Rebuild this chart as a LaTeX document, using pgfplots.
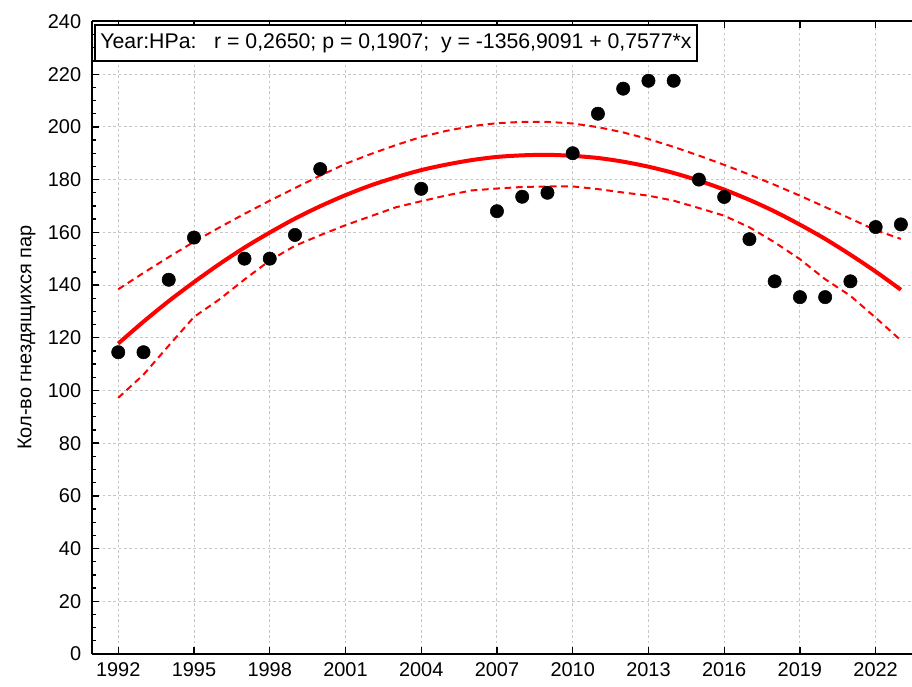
\documentclass[border=0pt]{standalone}
\usepackage{pgfplots}
\pgfplotsset{compat=1.18}
\usepackage{fontspec}
\setmainfont{Liberation Sans}

\pgfplotstableread{
x y
1992 114.5
1993 114.5
1994 142
1995 158
1997 150
1998 150
1999 159
2000 184
2004 176.5
2007 168
2008 173.5
2009 175
2010 190
2011 205
2012 214.5
2013 217.5
2014 217.5
2015 180
2016 173.4
2017 157.4
2018 141.4
2019 135.4
2020 135.4
2021 141.4
2022 162
2023 163
}\pts

\pgfplotstableread{
x fit up lo
1992 117.8 138.4 97.2
1993 126.1 144.6 106.0
1994 133.9 150.6 117.0
1995 141.1 156.4 127.9
1996 147.9 161.8 134.5
1997 154.2 167.0 142.1
1998 159.9 172.0 149.3
1999 165.2 176.8 154.9
2000 169.9 181.5 158.9
2001 174.1 186.0 162.7
2002 177.8 189.7 166.1
2003 180.9 193.1 169.5
2004 183.6 196.2 171.8
2005 185.7 198.5 174.0
2006 187.4 200.3 175.9
2007 188.6 201.4 176.6
2008 189.2 201.9 177.2
2009 189.4 201.9 177.4
2010 189.0 201.3 177.4
2011 188.2 199.9 176.4
2012 186.8 197.9 175.1
2013 184.9 195.4 173.9
2014 182.5 192.4 172.0
2015 179.6 189.1 169.2
2016 176.2 185.6 166.3
2017 172.3 181.9 161.9
2018 167.9 178.0 156.2
2019 162.9 173.9 149.8
2020 157.5 169.6 142.2
2021 151.5 165.2 135.9
2022 145.1 160.8 127.6
2023 138.2 157.5 119.0
}\band

\begin{document}
\fontsize{15}{17}\selectfont
\begin{tikzpicture}
\begin{axis}[
  scale only axis, width=615bp, height=474.4bp,
  xmin=1990.96, xmax=2023.44, ymin=0, ymax=240,
  axis x line=box, axis y line=left,
  y axis line style={-},
  axis line style={line width=1.5bp},
  xtick={1992,1995,...,2022}, ytick={0,20,...,240},
  minor x tick num=2, minor y tick num=3,
  tick align=inside,
  major tick length=5bp, minor tick length=3bp,
  tick style={black, line width=1bp},
  grid=major,
  major grid style={black!22, dash pattern=on 2bp off 2bp, line width=0.7bp},
  /pgf/number format/assume math mode=true,
  /pgf/number format/1000 sep={},
  ticklabel style={font=\fontsize{15}{17}\selectfont},
  xticklabel style={yshift=-1bp},
  yticklabel style={xshift=-3bp},
  ylabel={Кол-во гнездящихся пар},
  ylabel style={font=\fontsize{15}{17}\selectfont, yshift=-1bp},
  clip=false,
]
\addplot[red, line width=1.5bp, dash pattern=on 5bp off 3.5bp] table[x=x,y=up] {\band};
\addplot[red, line width=1.5bp, dash pattern=on 5bp off 3.5bp] table[x=x,y=lo] {\band};
\addplot[red, line width=3bp, smooth] table[x=x,y=fit] {\band};
\addplot[only marks, mark=*, mark size=5bp, black] table[x=x,y=y] {\pts};
\node[draw, line width=1.5bp, fill=white, anchor=north west, inner xsep=4bp,
      text height=12bp, text depth=4bp, inner ysep=5.5bp,
      font=\fontsize{16}{18}\selectfont]
  at (rel axis cs:0.0025,0.996)
  {Year:HPa:\ \ \ r = 0,2650; p = 0,1907;\ \ y = -1356,9091 + 0,7577*x};
\end{axis}
\pgfresetboundingbox
\path[use as bounding box] (current axis.south west) ++(-69bp,-24.75bp) rectangle ++(684bp,515.25bp);
\end{tikzpicture}
\end{document}
